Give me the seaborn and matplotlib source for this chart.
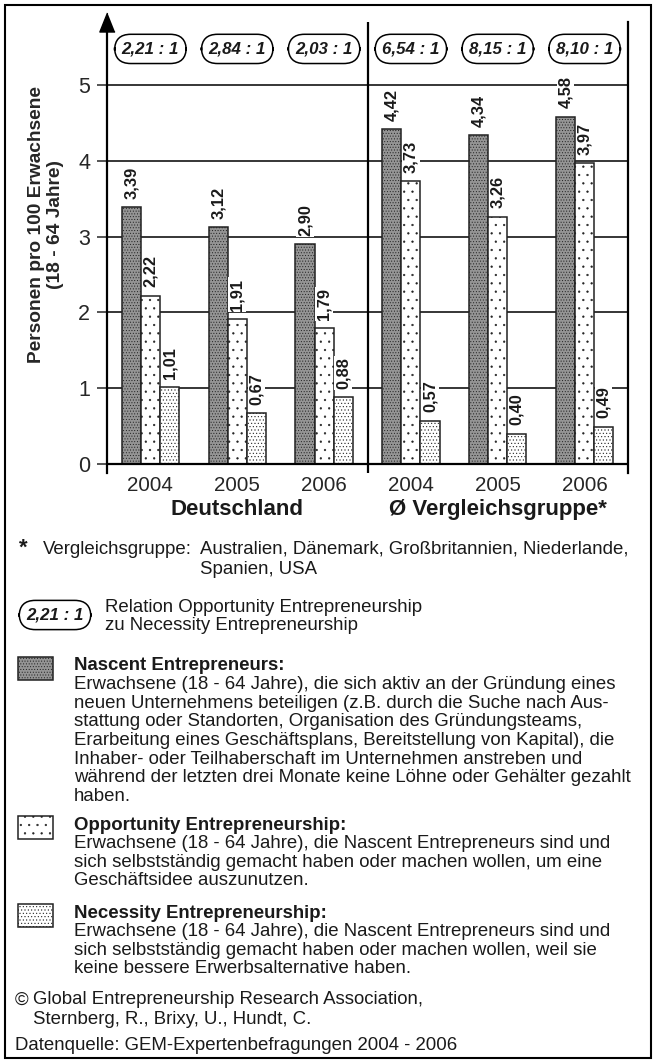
import numpy as np
import pandas as pd
import matplotlib
matplotlib.use("Agg")
import matplotlib.pyplot as plt
from matplotlib.patches import Rectangle
import seaborn as sns

# data
years = ["2004", "2005", "2006", "2004", "2005", "2006"]
regions = ["Deutschland"] * 3 + ["Ø Vergleichsgruppe*"] * 3
nascent = [3.39, 3.12, 2.90, 4.42, 4.34, 4.58]
opportunity = [2.22, 1.91, 1.79, 3.73, 3.26, 3.97]
necessity = [1.01, 0.67, 0.88, 0.57, 0.40, 0.49]
ratios = ["2,21 : 1", "2,84 : 1", "2,03 : 1", "6,54 : 1", "8,15 : 1", "8,10 : 1"]
series = ["Nascent", "Opportunity", "Necessity"]

sns.set_style("white")
plt.rcParams["font.family"] = ["Liberation Sans", "DejaVu Sans"]
plt.rcParams["hatch.linewidth"] = 0.4
plt.rcParams["text.color"] = "#1a1a1a"

W, H = 656, 1063


def fx(px):
    return px / W


def fy(py):
    return 1 - py / H


slots = [f"{r} {y}" for r, y in zip(regions, years)]
df = pd.DataFrame({
    "slot": slots * 3,
    "series": np.repeat(series, len(slots)),
    "value": nascent + opportunity + necessity,
})

fig = plt.figure(figsize=(W / 100, H / 100), dpi=100)
ax = fig.add_axes([fx(107), fy(473), fx(628) - fx(107), fy(22) - fy(473)])

colors = {"Nascent": "#959595", "Opportunity": "white", "Necessity": "white"}
hatches = {"Nascent": "......", "Opportunity": "..", "Necessity": "....."}

sns.barplot(data=df, x="slot", y="value", hue="series", order=slots,
            hue_order=series, palette=colors, saturation=1, width=0.66,
            edgecolor="#222222", linewidth=1.1, errorbar=None, legend=False, ax=ax)

for cont, name in zip(ax.containers, series):
    for bar in cont:
        bar.set_hatch(hatches[name])
        bar.set_zorder(3)
    labels = [f"{v:.2f}".replace(".", ",") for v in cont.datavalues]
    ax.bar_label(cont, labels=labels, rotation=90, padding=6, fontsize=11.8,
                 fontweight="bold", zorder=4,
                 bbox=dict(facecolor="white", edgecolor="none", pad=1))

ax.set_xlim(-0.5, 5.5)
ax.set_ylim(-0.12, 5.83)
ax.set_yticks(range(6))
ax.yaxis.grid(True, color="black", lw=1.1)
ax.set_axisbelow(True)
ax.axhline(0, color="black", lw=1.6, zorder=5)
ax.axvline(2.5, color="black", lw=1.6)

for side in ["top", "bottom"]:
    ax.spines[side].set_visible(False)
for side in ["left", "right"]:
    ax.spines[side].set_visible(True)
    ax.spines[side].set_color("black")
    ax.spines[side].set_linewidth(1.6)

ax.tick_params(axis="y", left=True, length=7, width=1.1, pad=5, labelsize=15.5)
ax.set_xticks(range(len(years)))
ax.set_xticklabels(years)
ax.tick_params(axis="x", bottom=False, length=0, pad=2, labelsize=14.8)
ax.set_xlabel("")
ax.set_ylabel("Personen pro 100 Erwachsene\n(18 - 64 Jahre)", fontsize=13.8,
              fontweight="bold", va="center", linespacing=1.1)
ax.yaxis.set_label_coords(-0.117, 0.552)

# arrow head on the y axis
ax.plot([0], [1], transform=ax.transAxes, marker=[(0, 1), (-0.8, -1), (0.8, -1)],
        ms=13.7, color="black", clip_on=False)

box = dict(boxstyle="round,pad=0.42,rounding_size=0.95", fc="white", ec="black", lw=1.1)
for i, r in enumerate(ratios):
    ax.text(i, 5.475, r, ha="center", va="center", fontsize=12.2,
            fontweight="bold", style="italic", bbox=box)

for name in dict.fromkeys(regions):
    pos = np.mean([i for i, r in enumerate(regions) if r == name])
    ax.text(pos, -0.082, name, transform=ax.get_xaxis_transform(),
            ha="center", va="center", fontsize=16, fontweight="bold")

# notes below the chart
fs = 13.4
fig.add_artist(Rectangle((fx(5), fy(1058)), fx(651) - fx(5), fy(5) - fy(1058),
                         transform=fig.transFigure, fill=False, ec="black", lw=1.5))

fig.text(fx(19), fy(538), "*", fontsize=16, fontweight="bold", va="top")
fig.text(fx(43), fy(549), "Vergleichsgruppe:", fontsize=fs, va="center")
fig.text(fx(200), fy(549), "Australien, Dänemark, Großbritannien, Niederlande,",
         fontsize=fs, va="center")
fig.text(fx(200), fy(569), "Spanien, USA", fontsize=fs, va="center")

fig.text(fx(55), fy(615), ratios[0], ha="center", va="center", fontsize=12.2,
         fontweight="bold", style="italic", bbox=box)
fig.text(fx(105), fy(607), "Relation Opportunity Entrepreneurship", fontsize=fs, va="center")
fig.text(fx(105), fy(626), "zu Necessity Entrepreneurship", fontsize=fs, va="center")

notes = [
    ("Nascent", "Nascent Entrepreneurs:", 666, [
        "Erwachsene (18 - 64 Jahre), die sich aktiv an der Gründung eines",
        "neuen Unternehmens beteiligen (z.B. durch die Suche nach Aus-",
        "stattung oder Standorten, Organisation des Gründungsteams,",
        "Erarbeitung eines Geschäftsplans, Bereitstellung von Kapital), die",
        "Inhaber- oder Teilhaberschaft im Unternehmen anstreben und",
        "während der letzten drei Monate keine Löhne oder Gehälter gezahlt",
        "haben.",
    ]),
    ("Opportunity", "Opportunity Entrepreneurship:", 825, [
        "Erwachsene (18 - 64 Jahre), die Nascent Entrepreneurs sind und",
        "sich selbstständig gemacht haben oder machen wollen, um eine",
        "Geschäftsidee auszunutzen.",
    ]),
    ("Necessity", "Necessity Entrepreneurship:", 913, [
        "Erwachsene (18 - 64 Jahre), die Nascent Entrepreneurs sind und",
        "sich selbstständig gemacht haben oder machen wollen, weil sie",
        "keine bessere Erwerbsalternative haben.",
    ]),
]
step = 18.6
for key, title, ty, lines in notes:
    fig.add_artist(Rectangle((fx(18), fy(ty + 14)), fx(53) - fx(18), 23 / H,
                             transform=fig.transFigure, fc=colors[key],
                             hatch=hatches[key], ec="#222222", lw=1.1))
    fig.text(fx(74), fy(ty), title, fontsize=fs, fontweight="bold", va="center")
    for k, line in enumerate(lines):
        fig.text(fx(74), fy(ty + step * (k + 1)), line, fontsize=fs, va="center")

fig.text(fx(15), fy(1000), "©", fontsize=fs, va="center")
fig.text(fx(33), fy(1000), "Global Entrepreneurship Research Association,",
         fontsize=fs, va="center")
fig.text(fx(33), fy(1020), "Sternberg, R., Brixy, U., Hundt, C.", fontsize=fs, va="center")
fig.text(fx(15), fy(1045), "Datenquelle: GEM-Expertenbefragungen 2004 - 2006",
         fontsize=fs, va="center")

fig.savefig("out.png", dpi=100)
